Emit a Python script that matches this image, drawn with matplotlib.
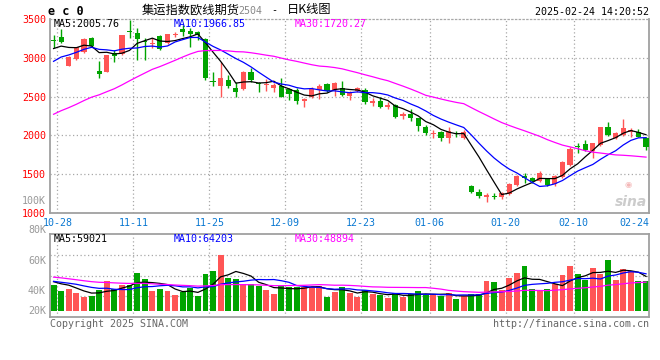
import matplotlib
matplotlib.use('Agg')
import matplotlib.pyplot as plt
import numpy as np
import pandas as pd

plt.rcParams['font.family'] = ['DejaVu Sans Mono', 'Noto Sans CJK SC']

# ---------------- data ----------------
date_labels = ['10-28', '11-11', '11-25', '12-09', '12-23', '01-06', '01-20', '02-10', '02-24']
date_index = [0, 10, 20, 30, 40, 49, 59, 68, 78]

open_ = [3229, 3272, 2898, 2981, 3071, 3251, 2830, 2821, 3058, 3045, 3345, 3316, 3216, 3174, 3281, 3187,
         3294, 3367, 3345, 3336, 3242, 2705, 2637, 2714, 2615, 2598,
         2821, 2667, 2645, 2615, 2641, 2598, 2585, 2443, 2499, 2585, 2662, 2585, 2607, 2512, 2572, 2585,
         2422, 2443, 2370, 2392, 2246, 2276, 2220, 2113, 2014, 2040, 1971,
         2027, 1962, 1348, 1275, 1210, 1223, 1202, 1240, 1361, 1477, 1455, 1417, 1447, 1369, 1460, 1619,
         1868, 1885, 1803, 1876, 2104, 1962, 2005, 2044, 2040, 1962]
high = [3294, 3371, 3020, 3140, 3250, 3272, 2959, 3040, 3100, 3300, 3487, 3380, 3251, 3251, 3294, 3310,
        3336, 3423, 3380, 3350, 3250, 2821, 2950, 2778, 2692, 2830,
        2864, 2684, 2727, 2671, 2735, 2607, 2607, 2486, 2619, 2658, 2671, 2692, 2701, 2572, 2628, 2607,
        2486, 2491, 2435, 2400, 2297, 2336, 2229, 2134, 2070, 2057, 2113,
        2061, 2070, 1361, 1305, 1253, 1262, 1275, 1382, 1490, 1520, 1468, 1546, 1455, 1490, 1670, 1855,
        1906, 1941, 1906, 2113, 2168, 2048, 2211, 2091, 2078, 1975]
low = [3126, 3187, 2890, 2975, 3065, 3143, 2744, 2815, 2942, 3040, 3259, 2972, 2972, 3122, 3100, 3180,
       3272, 3285, 3143, 3229, 2715, 2640, 2499, 2607, 2499, 2590,
       2684, 2564, 2572, 2564, 2495, 2456, 2405, 2370, 2478, 2469, 2564, 2512, 2512, 2456, 2555, 2409,
       2383, 2349, 2340, 2220, 2207, 2186, 2057, 2005, 1971, 1928, 1898,
       1975, 1949, 1262, 1189, 1146, 1176, 1176, 1232, 1348, 1391, 1391, 1404, 1348, 1348, 1447, 1606,
       1778, 1803, 1705, 1863, 1992, 1949, 1992, 1975, 1975, 1812]
close = [3216, 3207, 3014, 3135, 3242, 3156, 2787, 3036, 3023, 3294, 3336, 3242, 3207, 3187, 3110, 3303,
         3303, 3336, 3303, 3294, 2736, 2692, 2744, 2637, 2555, 2813,
         2714, 2658, 2658, 2650, 2499, 2534, 2448, 2469, 2594, 2637, 2576, 2680, 2521, 2542, 2607, 2435,
         2448, 2370, 2392, 2241, 2271, 2229, 2125, 2027, 2035, 1971, 2057,
         2014, 2048, 1275, 1219, 1232, 1210, 1253, 1374, 1477, 1447, 1412, 1520, 1361, 1477, 1657, 1829,
         1846, 1812, 1898, 2104, 2005, 2035, 2100, 2070, 1984, 1855]
volume_k = [44.2, 34.0, 37.4, 30.6, 24.3, 26.0, 35.7, 51.0, 37.4, 44.2, 44.2, 64.6, 54.4, 34.0, 37.4, 34.0,
            27.2, 32.3, 38.6, 26.0, 62.9, 68.0, 95.2, 55.6, 54.4, 45.9,
            45.9, 42.5, 35.7, 28.9, 42.5, 40.8, 40.8, 40.8, 40.8, 42.5, 24.3, 32.8, 40.3, 31.1, 24.3, 35.7,
            28.9, 27.2, 22.6, 30.6, 24.3, 28.9, 34.0, 27.2, 27.2, 25.0, 30.6,
            20.4, 25.0, 28.9, 28.9, 51.0, 49.3, 35.2, 56.1, 64.6, 76.5, 37.4, 34.0, 37.4, 45.9, 61.2, 76.5,
            62.9, 52.7, 73.1, 62.9, 86.7, 52.7, 71.4, 68.0, 51.0, 51.0]
# earlier sessions (left of the chart), estimated from where the MA lines start
pre_close = [1820, 1840, 1830, 1810, 1850, 1870, 1840, 1860, 1830, 1750, 1720, 1740, 1730, 2050, 2100,
             2080, 2060, 2120, 2320, 2400, 2650, 2750, 2800, 2850, 2900, 3050, 3100, 3150, 3080]
pre_volume_k = [70, 85, 80, 75, 72, 68, 60, 58, 62, 55, 57, 60, 56, 59, 48, 52, 50, 55, 49, 51,
                50, 53, 49, 52, 51, 52, 49, 55, 49]

price_ticks = [1000, 1500, 2000, 2500, 3000, 3500]
vol_tick_labels = ['100K', '80K', '60K', '40K', '20K']
vol_tick_values = [100000, 80000, 60000, 40000, 20000]

title_cn = '集运指数欧线期货'
title_code = '2504'
title_tail = '日K线图'
symbol = 'e c 0'
timestamp = '2025-02-24 14:20:52'
ma_price_text = ['MA5:2005.76', 'MA10:1966.85', 'MA30:1720.27']
ma_vol_text = ['MA5:59021', 'MA10:64203', 'MA30:48894']

# ---------------- styling ----------------
RED = '#ff5555'
GREEN = '#00a400'
GRID = '#a8a8a8'
SPINE = '#a0a0a0'
BLUE_TXT = '#0a78d2'
MA_COLORS = ['black', '#0000ff', '#ff00ff']
FS = 7.2

W, H = 660, 360
fig = plt.figure(figsize=(W / 100, H / 100), dpi=100)


def ftxt(px, py, s, **kw):
    fig.text(px / W, 1 - py / H, s, **kw)


ax = fig.add_axes([50 / W, 1 - 213 / H, 599.3 / W, 194 / H])
axv = fig.add_axes([50 / W, 1 - 317 / H, 599.3 / W, 83 / H])

o, h, l, c = (np.array(a, float) for a in (open_, high, low, close))
vol = np.array(volume_k) * 1000
n = len(c)
x = np.arange(n)
up = c >= o
cols = np.where(up, RED, GREEN)

full_c = np.concatenate([np.array(pre_close, float), c])
full_v = np.concatenate([np.array(pre_volume_k) * 1000, vol])


def ma(arr, k):
    return pd.Series(arr).rolling(k).mean().values[-n:]


for a in (ax, axv):
    a.set_xlim(-0.47, n - 1 + 0.43)
    for di in date_index[:-1]:
        a.axvline(di + 0.5, color=GRID, lw=0.9, ls=(0, (1, 2)), zorder=0)

# main panel
ax.set_ylim(1000, 3500)
for yv in price_ticks[1:-1]:
    ax.axhline(yv, color=GRID, lw=0.9, ls=(0, (1, 2)), zorder=0)
ax.vlines(x, l, h, colors=cols, lw=1, zorder=2)
ax.bar(x, np.maximum(np.abs(c - o), 13), bottom=np.minimum(o, c), width=0.68,
       color=cols, linewidth=0, zorder=3)
for k, col in zip((5, 10, 30), MA_COLORS):
    ax.plot(x, ma(full_c, k), color=col, lw=0.9, zorder=4)

ax.set_yticks(price_ticks)
ax.set_yticklabels([str(t) for t in price_ticks])
ax.tick_params(axis='y', length=0, pad=3, labelcolor='red', labelsize=FS)
ax.get_yticklabels()[-1].set_verticalalignment('center_baseline')
ax.set_xticks([di + 0.5 for di in date_index[:-1]] + [date_index[-1] - 1.5])
ax.set_xticklabels(date_labels)
ax.tick_params(axis='x', length=0, pad=3.5, labelcolor=BLUE_TXT, labelsize=FS)
for s in ('left', 'right', 'bottom'):
    ax.spines[s].set_color(SPINE)
    ax.spines[s].set_linewidth(1.3)
ax.spines['top'].set_color(GRID)
ax.spines['top'].set_linestyle((0, (1, 2)))
ax.spines['top'].set_linewidth(0.9)

# volume panel (bar base sits a little above the frame bottom)
axv.set_ylim(-10200, 130900)
for frac in (0.25, 0.5, 0.75):
    axv.axhline(-10200 + frac * 141100, color=GRID, lw=0.9, ls=(0, (1, 2)), zorder=0)
axv.bar(x, vol, width=0.78, color=cols, linewidth=0, zorder=2)
for k, col in zip((5, 10, 30), MA_COLORS):
    axv.plot(x, ma(full_v, k), color=col, lw=0.9, zorder=4)
axv.set_xticks([])
axv.set_yticks([])
for s in axv.spines.values():
    s.set_color(SPINE)
    s.set_linewidth(1.3)

# volume axis labels (drawn where the chart shows them)
for lab, v in zip(vol_tick_labels, vol_tick_values):
    py = min(290.5 - (v - 40000) / 20000 * 30, 311)
    ftxt(46, py, lab, ha='right', va='center', color='#999999', fontsize=FS)

# texts
ftxt(48, 11.5, symbol, ha='left', va='center', fontsize=8.5, fontweight='bold', color='black')
ftxt(142, 10, title_cn, ha='left', va='center', fontsize=8.8, family='Noto Sans CJK SC')
ftxt(238, 10.5, title_code, ha='left', va='center', fontsize=FS, color='#888888')
ftxt(274, 10, '-', ha='center', va='center', fontsize=FS)
ftxt(287, 10, title_tail, ha='left', va='center', fontsize=8.8, family='Noto Sans CJK SC')
ftxt(649, 12, timestamp, ha='right', va='center', fontsize=FS)
for txt, px, col in zip(ma_price_text, (54, 174, 295), MA_COLORS):
    ftxt(px, 23.7, txt, ha='left', va='center', fontsize=FS, color=col)
for txt, px, col in zip(ma_vol_text, (54, 174, 295), MA_COLORS):
    ftxt(px, 238.7, txt, ha='left', va='center', fontsize=FS, color=col)
ftxt(50, 324, 'Copyright 2025 SINA.COM', ha='left', va='center', fontsize=FS, color='#666666')
ftxt(649, 324, 'http://finance.sina.com.cn', ha='right', va='center', fontsize=FS, color='#666666')
ftxt(631, 202, 'sina', ha='center', va='center', fontsize=10, fontweight='bold',
     style='italic', color='#cccccc', family='DejaVu Sans')
ftxt(628, 185, '◉', ha='center', va='center', fontsize=6, color='#f4b8b8', family='DejaVu Sans')

fig.savefig('out.png', dpi=100)
